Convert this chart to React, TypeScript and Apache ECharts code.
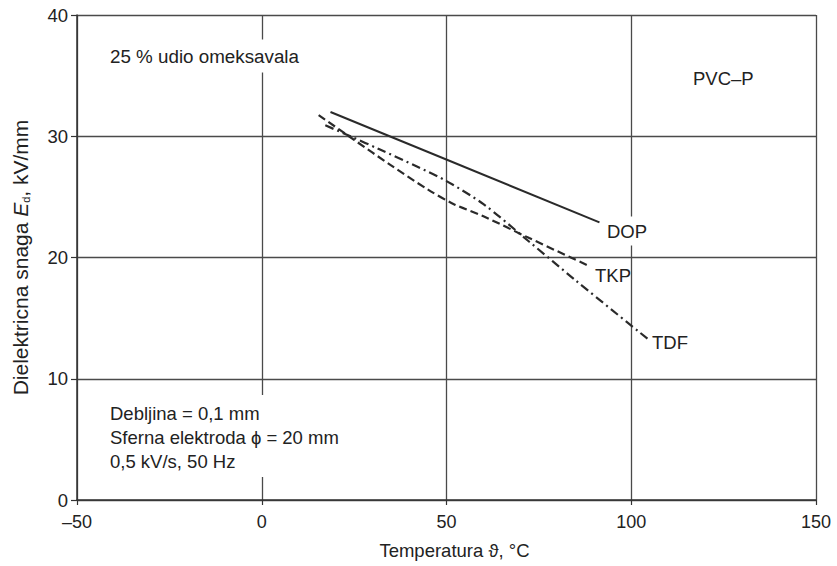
import React, { useEffect, useRef } from 'react';
import * as echarts from 'echarts';

// Temperature (°C) vs dielectric strength (kV/mm)
const dopData: number[][] = [[18.6, 32.0], [91.4, 22.9]];
const tkpData: number[][] = [
  [15.4, 31.75], [25, 29.7], [35, 27.6], [45, 25.6], [52, 24.4], [60, 23.4], [72.4, 21.6], [88.6, 19.3],
];
const tdfData: number[][] = [
  [17.2, 30.9], [24, 30.0], [32, 28.9], [42, 27.5], [50, 26.3], [60, 24.4], [72.4, 21.3], [85, 18.1], [104.4, 13.3],
];
const seriesNames = ['DOP', 'TKP', 'TDF'];
const xRange = { min: -50, max: 150, step: 50 };
const yRange = { min: 0, max: 40, step: 10 };

const FONT = '"Liberation Sans", Arial, Helvetica, sans-serif';
const INK = '#222';
const FS = 18.5;

export default function App() {
  const ref = useRef<HTMLDivElement>(null);
  useEffect(() => {
    document.body.style.margin = '0';
    const chart = echarts.init(ref.current!, null, { renderer: 'svg' });
    const txt = (text: string, x: number, y: number, extra: any = {}) => ({
      type: 'text',
      x,
      y,
      z: 100,
      style: {
        text,
        fontSize: FS,
        fontFamily: FONT,
        fill: INK,
        align: 'left',
        verticalAlign: 'middle',
        textAlign: 'left',
        textVerticalAlign: 'middle',
        ...extra,
      },
    });
    chart.setOption({
      animation: false,
      backgroundColor: '#fff',
      textStyle: { fontFamily: FONT },
      grid: { left: 77, right: 21, top: 15, bottom: 66, containLabel: false },
      xAxis: {
        type: 'value',
        min: xRange.min,
        max: xRange.max,
        interval: xRange.step,
        axisLine: { show: true, onZero: false, lineStyle: { color: '#333', width: 1.5 } },
        axisTick: { show: true, length: 5, lineStyle: { color: '#333', width: 1.2 } },
        axisLabel: {
          margin: 13,
          fontSize: 18,
          color: INK,
          formatter: (v: number) => String(v).replace('-', '–'),
        },
        splitLine: { show: true, lineStyle: { color: '#4a4a4a', width: 1.3 } },
        name: 'Temperatura ϑ, °C',
        nameLocation: 'middle',
        nameGap: 41,
        nameTextStyle: { fontSize: FS, color: INK, padding: [0, 0, 0, 16] },
      },
      yAxis: {
        type: 'value',
        min: yRange.min,
        max: yRange.max,
        interval: yRange.step,
        axisLine: { show: true, onZero: false, lineStyle: { color: '#333', width: 1.5 } },
        axisTick: { show: true, length: 6, lineStyle: { color: '#333', width: 1.2 } },
        axisLabel: { margin: 9, fontSize: 18.5, color: INK },
        splitLine: { show: true, lineStyle: { color: '#4a4a4a', width: 1.3 } },
        name: '{a|Dielektricna snaga }{i|E}{s|d}{a|, kV/mm}',
        nameLocation: 'middle',
        nameGap: 46,
        nameRotate: 90,
        nameTextStyle: {
          color: INK,
          rich: {
            a: { fontSize: 21, color: INK, fontFamily: FONT },
            i: { fontSize: 21, color: INK, fontFamily: FONT, fontStyle: 'italic' },
            s: { fontSize: 11, color: INK, fontFamily: FONT, verticalAlign: 'bottom', padding: [10, 0, 0, 0] },
          },
        },
      },
      series: [
        {
          name: seriesNames[0],
          type: 'line',
          data: dopData,
          symbol: 'none',
          lineStyle: { color: '#2a2a2a', width: 2, type: 'solid' },
          z: 5,
        },
        {
          name: seriesNames[1],
          type: 'line',
          data: tkpData,
          symbol: 'none',
          smooth: 0.3,
          lineStyle: { color: '#2a2a2a', width: 2.2, type: [8, 4] },
          z: 5,
        },
        {
          name: seriesNames[2],
          type: 'line',
          data: tdfData,
          symbol: 'none',
          smooth: 0.3,
          lineStyle: { color: '#2a2a2a', width: 2.2, type: [9, 4, 2, 4] },
          z: 5,
        },
      ],
      graphic: [
        txt('25 % udio omeksavala', 106, 56, { fontSize: 18.8, backgroundColor: '#fff', padding: [7, 4, 7, 4] }),
        txt('PVC–P', 693, 78),
        txt(seriesNames[0], 605, 231, { backgroundColor: '#fff', padding: [5, 2, 5, 2] }),
        txt(seriesNames[1], 595, 275),
        txt(seriesNames[2], 652, 342),
        txt('Debljina = 0,1 mm\nSferna elektroda ϕ = 20 mm\n0,5 kV/s, 50 Hz', 106, 395, {
          verticalAlign: 'top',
          textVerticalAlign: 'top',
          lineHeight: 24,
          backgroundColor: '#fff',
          padding: [6, 4, 4, 4],
        }),
      ],
    });
    return () => chart.dispose();
  }, []);
  return <div ref={ref} style={{ width: 837, height: 566 }} />;
}
